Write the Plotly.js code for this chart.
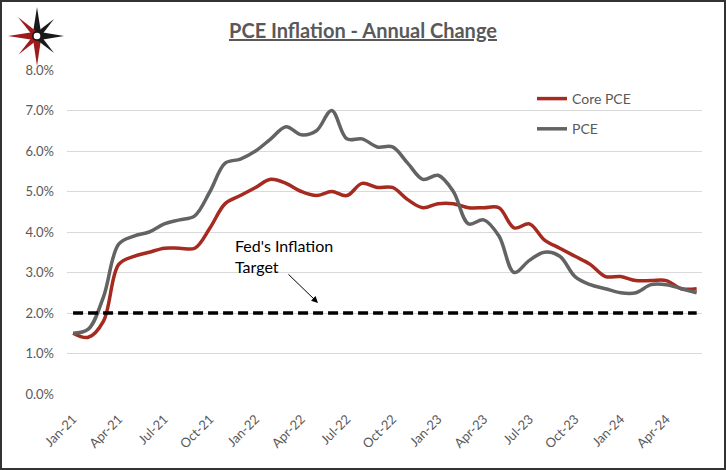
<!DOCTYPE html>
<html>
<head>
<meta charset="utf-8">
<script src="https://cdn.plot.ly/plotly-3.0.1.min.js"></script>
<style>
body{margin:0;background:#fff}
#wrap{position:relative;width:726px;height:470px}
#frame{position:absolute;left:0;top:0;width:726px;height:470px;box-sizing:border-box;border:2px solid #333;pointer-events:none}
</style>
</head>
<body>
<div id="wrap"><div id="chart" style="width:726px;height:470px"></div><div id="frame"></div></div>
<script>
// ---- data ----
const months = ['Jan-21','Feb-21','Mar-21','Apr-21','May-21','Jun-21','Jul-21','Aug-21','Sep-21','Oct-21','Nov-21','Dec-21',
  'Jan-22','Feb-22','Mar-22','Apr-22','May-22','Jun-22','Jul-22','Aug-22','Sep-22','Oct-22','Nov-22','Dec-22',
  'Jan-23','Feb-23','Mar-23','Apr-23','May-23','Jun-23','Jul-23','Aug-23','Sep-23','Oct-23','Nov-23','Dec-23',
  'Jan-24','Feb-24','Mar-24','Apr-24','May-24','Jun-24'];
const corePCE = [1.5,1.4,1.8,3.2,3.4,3.5,3.6,3.6,3.6,4.1,4.7,4.9,
  5.1,5.3,5.2,5.0,4.9,5.0,4.9,5.2,5.1,5.1,4.8,4.6,
  4.7,4.7,4.6,4.6,4.6,4.1,4.2,3.8,3.6,3.4,3.2,2.9,
  2.9,2.8,2.8,2.8,2.6,2.6];
const pce = [1.5,1.6,2.4,3.7,3.9,4.0,4.2,4.3,4.4,5.0,5.7,5.8,
  6.0,6.3,6.6,6.4,6.5,7.0,6.3,6.3,6.1,6.1,5.7,5.3,
  5.4,5.0,4.2,4.3,3.9,3.0,3.3,3.5,3.4,2.9,2.7,2.6,
  2.5,2.5,2.7,2.7,2.6,2.5];
const targetX = ['Jan-21','Jun-24'];
const targetY = [2.0, 2.0];
const tickLabels = ['Jan-21','Apr-21','Jul-21','Oct-21','Jan-22','Apr-22','Jul-22','Oct-22','Jan-23','Apr-23','Jul-23','Oct-23','Jan-24','Apr-24'];

// ---- layout geometry ----
const W = 726, H = 470;
const M = {l: 67, r: 24, t: 70, b: 76};
const PW = W - M.l - M.r, PH = H - M.t - M.b;
const FONT = 'Lato, "Open Sans", sans-serif';

// logo (decorative compass star) as inline svg
function logoSVG() {
  const cx = 37, cy = 36;
  const red = '#9E1B1B', blk = '#1A1A1A';
  let parts = '';
  const spikes = [
    {a: 90, L: 29, w: 4.5, c: blk}, {a: 0, L: 27, w: 4.5, c: blk},
    {a: 270, L: 30, w: 4.5, c: red}, {a: 180, L: 29, w: 4.5, c: red},
    {a: 45, L: 24, w: 3.2, c: blk}, {a: 315, L: 24, w: 3.2, c: blk},
    {a: 135, L: 27, w: 3.2, c: red}, {a: 225, L: 26, w: 3.2, c: red}
  ];
  spikes.forEach(s => {
    const r = s.a * Math.PI / 180;
    const ux = Math.cos(r), uy = -Math.sin(r);
    const nx = -uy, ny = ux;
    const tx = cx + s.L * ux, ty = cy + s.L * uy;
    const p1 = (cx + s.w * nx).toFixed(1) + ',' + (cy + s.w * ny).toFixed(1);
    const p2 = (cx - s.w * nx).toFixed(1) + ',' + (cy - s.w * ny).toFixed(1);
    parts += '<polygon points="' + tx.toFixed(1) + ',' + ty.toFixed(1) + ' ' + p1 + ' ' + p2 + '" fill="' + s.c + '"/>';
  });
  parts += '<circle cx="' + cx + '" cy="' + cy + '" r="5" fill="#1A1A1A"/>';
  parts += '<circle cx="' + cx + '" cy="' + cy + '" r="3.3" fill="#fff"/>';
  const svg = '<svg xmlns="http://www.w3.org/2000/svg" width="80" height="75" viewBox="0 0 80 75">' + parts + '</svg>';
  return 'data:image/svg+xml;charset=utf-8,' + encodeURIComponent(svg);
}

const traces = [
  {x: months, y: corePCE, name: 'Core PCE', type: 'scatter', mode: 'lines', legendgroup: 'a',
   line: {color: '#A52A1F', width: 3.5, shape: 'spline', smoothing: 1}},
  {x: months, y: pce, name: 'PCE', type: 'scatter', mode: 'lines', legendgroup: 'b',
   line: {color: '#636363', width: 3.5, shape: 'spline', smoothing: 1}},
  {x: targetX, y: targetY, name: "Fed's Inflation Target", type: 'scatter', mode: 'lines', showlegend: false,
   line: {color: '#000', width: 3.5, dash: '10px,5px'}}
];

const layout = {
  width: W, height: H,
  margin: M,
  paper_bgcolor: '#fff', plot_bgcolor: '#fff',
  font: {family: FONT, color: '#595959'},
  title: {text: '<b><u>PCE Inflation - Annual Change</u></b>', font: {family: FONT, size: 20, color: '#595959'},
          x: 0.5, xref: 'container', y: 1 - 31 / H, yref: 'container', yanchor: 'middle', xanchor: 'center'},
  xaxis: {type: 'category', categoryorder: 'array', categoryarray: months,
          range: [-0.4, 41.35], showgrid: false, zeroline: false, showline: false, ticks: '',
          tickmode: 'array', tickvals: tickLabels, ticktext: tickLabels, tickangle: -45,
          tickfont: {family: FONT, size: 13, color: '#595959'}, ticklabelstandoff: 14, fixedrange: true},
  yaxis: {range: [0, 8], dtick: 1, tick0: 0, tickformat: '.1f', ticksuffix: '%',
          showgrid: true, gridcolor: '#D9D9D9', gridwidth: 1, zeroline: false, showline: false, ticks: '',
          tickfont: {family: FONT, size: 13, color: '#595959'}, ticklabelstandoff: 12, fixedrange: true},
  showlegend: true,
  legend: {x: (532 - M.l) / PW, xanchor: 'left', y: (H - M.b - 83) / PH, yanchor: 'top',
           font: {family: FONT, size: 14, color: '#595959'}, bgcolor: 'rgba(0,0,0,0)',
           itemwidth: 30, tracegroupgap: 9, traceorder: 'grouped'},
  annotations: [
    {text: "Fed's Inflation<br>Target", x: 10.5, y: 3.40, xref: 'x', yref: 'y', xanchor: 'left', yanchor: 'middle',
     align: 'left', showarrow: false, font: {family: FONT, size: 16, color: '#000'}},
    {text: '', x: 16.1, y: 2.25, xref: 'x', yref: 'y', ax: -31, ay: -30, showarrow: true,
     arrowhead: 2, arrowsize: 1.3, arrowwidth: 1, arrowcolor: '#000'}
  ],
  images: [
    {source: logoSVG(), xref: 'paper', yref: 'paper', x: (0 - M.l) / PW, y: (H - M.b - 0) / PH,
     sizex: 80 / PW, sizey: 75 / PH, xanchor: 'left', yanchor: 'top', sizing: 'stretch', layer: 'above'}
  ]
};

Plotly.newPlot('chart', traces, layout, {displayModeBar: false, staticPlot: true});
</script>
</body>
</html>
